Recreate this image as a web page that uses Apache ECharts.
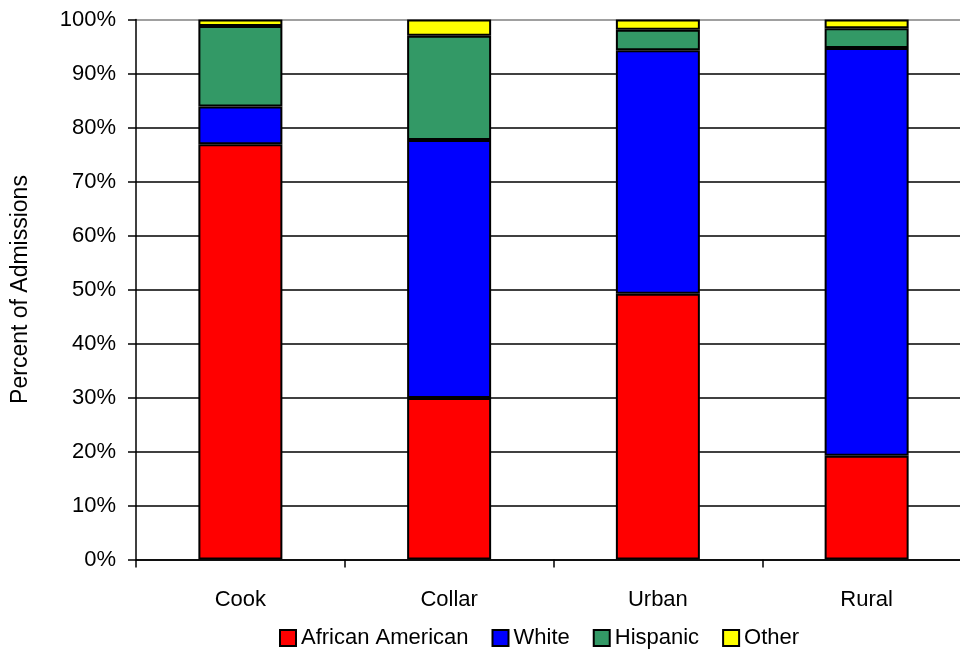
<!DOCTYPE html>
<html>
<head>
<meta charset="utf-8">
<script src="https://cdn.jsdelivr.net/npm/echarts@6/dist/echarts.min.js"></script>
<style>
  html, body { margin: 0; padding: 0; background: #fff; }
  #chart { width: 960px; height: 650px; }
</style>
</head>
<body>
<div id="chart"></div>
<script>
// Admissions by race, percent of each region's total
const regions = ['Cook', 'Collar', 'Urban', 'Rural'];
const africanAmerican = [76.9, 29.9, 49.2, 19.2];
const white = [7.0, 47.8, 45.1, 75.5];
const hispanic = [14.9, 19.3, 3.8, 3.7];
const other = [1.2, 3.0, 1.9, 1.6];

const seriesNames = ['African American', 'White', 'Hispanic', 'Other'];
const seriesData = [africanAmerican, white, hispanic, other];
const seriesColors = ['#FF0000', '#0000FF', '#339966', '#FFFF00'];

const FONT = '"Liberation Sans", Arial, sans-serif';

// gridlines: black, except the 100% line, which is grey
const splitColors = [];
for (let i = 0; i < 10; i++) splitColors.push('#000000');
splitColors.push('#808080');

const chart = echarts.init(document.getElementById('chart'), null, { renderer: 'canvas' });

chart.setOption({
  animation: false,
  backgroundColor: '#ffffff',
  textStyle: { fontFamily: FONT, color: '#000' },
  // the plot runs a little past the right edge of the page
  grid: {
    left: 136, top: 19.5, width: 835, height: 540,
    containLabel: false,
    outerBoundsMode: 'none'
  },
  legend: {
    left: 274,
    top: 622,
    itemWidth: 16,
    itemHeight: 16,
    itemGap: 23,
    icon: 'rect',
    textStyle: { fontFamily: FONT, fontSize: 22, color: '#000' },
    data: seriesNames
  },
  xAxis: {
    type: 'category',
    data: regions,
    boundaryGap: true,
    axisLine: { show: true, lineStyle: { color: '#000', width: 1.5 } },
    axisTick: { show: true, length: 8, lineStyle: { color: '#000', width: 1.5 } },
    axisLabel: { fontFamily: FONT, fontSize: 22, color: '#000', margin: 29 },
    splitLine: { show: false }
  },
  yAxis: {
    type: 'value',
    min: 0,
    max: 100,
    interval: 10,
    name: 'Percent of Admissions',
    nameLocation: 'middle',
    nameRotate: 90,
    nameGap: 104,
    nameTextStyle: { fontFamily: FONT, fontSize: 23, color: '#000' },
    axisLine: { show: true, lineStyle: { color: '#000', width: 1.5 } },
    axisTick: { show: true, length: 8, lineStyle: { color: '#000', width: 1.5 } },
    axisLabel: { fontFamily: FONT, fontSize: 22, color: '#000', margin: 20, formatter: '{value}%' },
    splitLine: { show: true, lineStyle: { color: splitColors, width: 1.5 } }
  },
  series: seriesNames.map((name, i) => ({
    name: name,
    type: 'bar',
    stack: 'total',
    barWidth: 84,
    data: seriesData[i],
    itemStyle: { color: seriesColors[i], borderColor: '#000', borderWidth: 2 }
  }))
});
</script>
</body>
</html>
